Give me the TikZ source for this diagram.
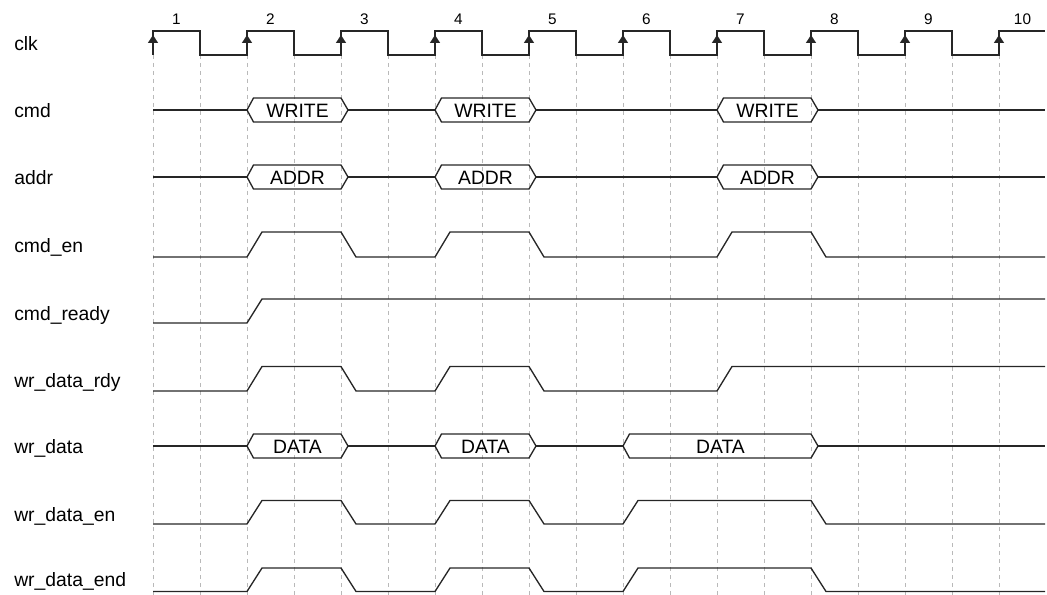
\documentclass[tikz,border=0pt]{standalone}
\usepackage{fontspec}
\setmainfont{Liberation Sans}
\usetikzlibrary{arrows.meta}

\begin{document}
\begin{tikzpicture}[x=0.75pt,y=-0.75pt,
    wave/.style={line width=1pt,black!85,line join=miter},
    grid/.style={gray!55,line width=0.75pt,dash pattern=on 3pt off 3pt},
    lbl/.style={anchor=base west,inner sep=0pt,font=\fontsize{14.5}{17}\selectfont},
    num/.style={anchor=base,inner sep=0pt,font=\fontsize{11.5}{14}\selectfont},
    bustext/.style={inner sep=0pt,font=\fontsize{14.5}{17}\selectfont}]
    \useasboundingbox (0,0) rectangle (1047,595);
    % signal names
    \foreach \n/\t/\y in {clk/clk/51, cmd/cmd/118, addr/addr/185, cmden/cmd\_en/253,
        cmdready/cmd\_ready/321, wrrdy/wr\_data\_rdy/388, wrdata/wr\_data/454,
        wren/wr\_data\_en/521, wrend/wr\_data\_end/586}
        \node[lbl] (\n) at (14,\y) {\t};
    % grid
    \foreach \i in {0,...,18}
        \draw[grid] (153+47*\i,55) -- (153+47*\i,595);
    % clock
    \draw[wave] (153,55) foreach \i in {1,...,9} {-- ++(0,-24) -- ++(47,0) -- ++(0,24) -- ++(47,0)}
        -- ++(0,-24) -- (1045,31);
    \foreach \i in {1,...,10} {
        \draw[wave,-{Triangle[width=7.5pt,length=6pt]}] (59+94*\i,55) -- (59+94*\i,35);
        \node[num] (n\i) at (82.5+94*\i,25) {\i};
    }
    % cmd, addr
    \foreach \y/\t/\s in {110/WRITE/w, 177/ADDR/a} {
        \draw[wave] (153,\y) -- (247,\y) (348,\y) -- (435,\y) (536,\y) -- (717,\y) (818,\y) -- (1045,\y);
        \foreach \a/\b [count=\k] in {247/341, 435/529, 717/811} {
            \draw[wave] (\a,\y) -- (\a+6.5,\y-12) -- (\b,\y-12) -- (\b+7,\y) -- (\b,\y+12) -- (\a+6.5,\y+12) -- cycle;
            \node[bustext] (\s\k) at ({(\a+\b+7)/2},\y+1) {\t};
        }
    }
    % wr_data
    \draw[wave] (153,446) -- (247,446) (348,446) -- (435,446) (536,446) -- (623,446) (818,446) -- (1045,446);
    \foreach \a/\b [count=\k] in {247/341, 435/529, 623/811} {
        \draw[wave] (\a,446) -- (\a+6.5,434) -- (\b,434) -- (\b+7,446) -- (\b,458) -- (\a+6.5,458) -- cycle;
        \node[bustext] (d\k) at ({(\a+\b+7)/2},447) {DATA};
    }
    % cmd_en
    \draw[wave] (153,257) -- (247,257) -- (262,232) -- (341,232) -- (356,257) -- (435,257) -- (450,232)
        -- (529,232) -- (544,257) -- (717,257) -- (732,232) -- (811,232) -- (826,257) -- (1045,257);
    % cmd_ready
    \draw[wave] (153,323) -- (247,323) -- (262,299) -- (1045,299);
    % wr_data_rdy
    \draw[wave] (153,391) -- (247,391) -- (262,366.5) -- (341,366.5) -- (356,391) -- (435,391) -- (450,366.5)
        -- (529,366.5) -- (544,391) -- (717,391) -- (732,366.5) -- (1045,366.5);
    % wr_data_en, wr_data_end
    \foreach \lo/\hi in {524/500.5, 591.5/568}
        \draw[wave] (153,\lo) -- (247,\lo) -- (262,\hi) -- (341,\hi) -- (356,\lo) -- (435,\lo) -- (450,\hi)
            -- (529,\hi) -- (544,\lo) -- (623,\lo) -- (638,\hi) -- (811,\hi) -- (826,\lo) -- (1045,\lo);
\end{tikzpicture}
\end{document}
